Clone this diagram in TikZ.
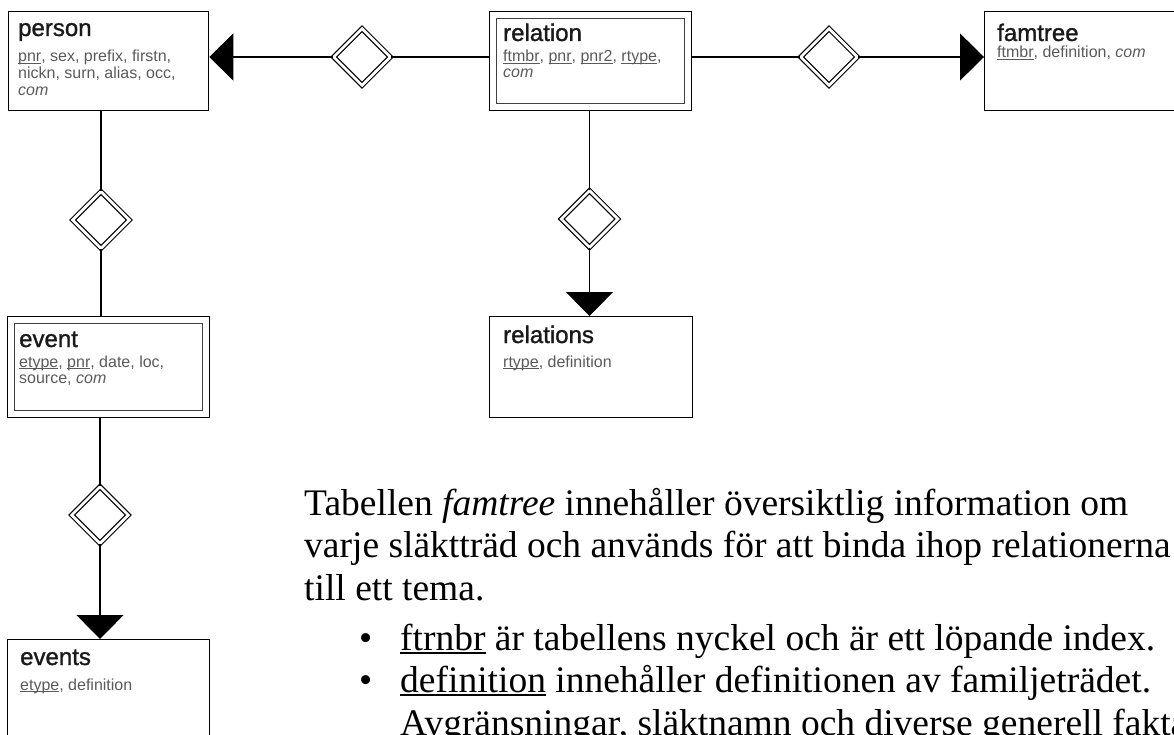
\documentclass[tikz,border=0pt]{standalone}
\usepackage{fontspec}
\setmainfont{Liberation Serif}
\newfontfamily\boxfont{Liberation Sans}
\newfontfamily\titlefont[FakeBold=1.2]{Liberation Sans}
\usetikzlibrary{arrows.meta,shapes.geometric}

\definecolor{attrgray}{HTML}{5A5A5A}

% underlined key attribute: #1 depth, #2 thickness, #3 text
\newcommand\keyline[3]{\setbox0=\hbox{#3}\rlap{\rule[#1]{\wd0}{#2}}\box0\relax}
\newcommand\key[1]{\keyline{-2.2pt}{0.9pt}{#1}}
\newcommand\bodykey[1]{\keyline{-3.8pt}{1.7pt}{#1}}

\tikzset{
  entity/.style={draw, line width=1.3pt, rectangle, inner sep=0pt, anchor=north west},
  weakinner/.style={draw=black!75, line width=1pt},
  relship/.style={draw, diamond, aspect=1, minimum size=57pt, inner sep=0pt,
                  line width=1.1pt, double, double distance=2.8pt},
  link/.style={line width=1.2pt},
  tolink/.style={link, -{Triangle[length=24pt,width=47pt]}},
  etitle/.style={anchor=base west, inner sep=0pt, text=black!90,
                 font=\titlefont\fontsize{24}{28}\selectfont},
  eattr/.style={anchor=base west, inner sep=0pt, text=attrgray,
                font=\boxfont\fontsize{16}{18}\selectfont},
  body/.style={anchor=base west, inner sep=0pt,
               font=\fontsize{37.5}{42}\selectfont},
}

\begin{document}
\begin{tikzpicture}[x=1pt,y=-1pt]
\useasboundingbox (0,0) rectangle (1174,735);
\clip (0,0) rectangle (1174,735);

% entity boxes
\node[entity, minimum width=200pt, minimum height=99pt]  (person)    at (8,11)    {};
\node[entity, minimum width=202pt, minimum height=99pt]  (relation)  at (489,11)  {};
\node[entity, minimum width=200pt, minimum height=99pt]  (famtree)   at (984,11)  {};
\node[entity, minimum width=202pt, minimum height=101pt] (event)     at (7,316)   {};
\node[entity, minimum width=203pt, minimum height=101pt] (relations) at (489,316) {};
\node[entity, minimum width=202pt, minimum height=101pt] (events)    at (7,639)   {};

% inner frames of the weak entities
\draw[weakinner] ([shift={(7.5pt,-7.5pt)}]relation.north west) rectangle ([shift={(-7.5pt,7.5pt)}]relation.south east);
\draw[weakinner] ([shift={(7.5pt,-7.5pt)}]event.north west) rectangle ([shift={(-7.5pt,7.5pt)}]event.south east);

% entity names and attributes
\node[etitle] (personT) at (18,36) {person};
\node[eattr] (personA1) at (18,62) {\key{pnr}, sex, prefix, firstn,};
\node[eattr] (personA2) at (18,79) {nickn, surn, alias, occ,};
\node[eattr] (personA3) at (18,96) {\textit{com}};

\node[etitle] (relationT) at (503,41) {relation};
\node[eattr] (relationA1) at (503,62) {\key{ftmbr}, \key{pnr}, \key{pnr2}, \key{rtype},};
\node[eattr] (relationA2) at (503,78) {\textit{com}};

\node[etitle] (famtreeT) at (997,41) {famtree};
\node[eattr] (famtreeA1) at (997,58) {\key{ftmbr}, definition, \textit{com}};

\node[etitle] (eventT) at (19,347) {event};
\node[eattr] (eventA1) at (19,367) {\key{etype}, \key{pnr}, date, loc,};
\node[eattr] (eventA2) at (19,383) {source, \textit{com}};

\node[etitle] (relationsT) at (503,343) {relations};
\node[eattr] (relationsA1) at (503,367) {\key{rtype}, definition};

\node[etitle] (eventsT) at (20,665) {events};
\node[eattr] (eventsA1) at (20,690) {\key{etype}, definition};

% relationships
\node[relship] (rPerson)    at (362,57)    {};
\node[relship] (rFamtree)   at (829,57)    {};
\node[relship] (rEvent)     at (101,220)   {};
\node[relship] (rEtype)     at (100,515)   {};
\node[relship] (rRtype)     at (589.5,219) {};

% connectors
\draw[link]   (relation.west |- rPerson.east) -- (rPerson.east);
\draw[tolink] (rPerson.west) -- (rPerson.west -| person.east);
\draw[link]   (relation.east |- rFamtree.west) -- (rFamtree.west);
\draw[tolink] (rFamtree.east) -- (rFamtree.east -| famtree.west);
\draw[link]   (rEvent.north |- person.south) -- (rEvent.north);
\draw[link]   (rEvent.south) -- (rEvent.south |- event.north);
\draw[link]   (rEtype.north |- event.south) -- (rEtype.north);
\draw[tolink] (rEtype.south) -- (rEtype.south |- events.north);
\draw[link]   (rRtype.north |- relation.south) -- (rRtype.north);
\draw[tolink] (rRtype.south) -- (rRtype.south |- relations.north);

% description text
\node[body] (p1) at (304,515) {Tabellen \textit{famtree} innehåller översiktlig information om};
\node[body] (p2) at (304,557) {varje släktträd och används för att binda ihop relationerna};
\node[body] (p3) at (304,600) {till ett tema.};
\node[body] (b1) at (359,650) {•};
\node[body] (i1) at (400,650) {\bodykey{ftrnbr} är tabellens nyckel och är ett löpande index.};
\node[body] (b2) at (359,692) {•};
\node[body] (i2) at (400,692) {\bodykey{definition} innehåller definitionen av familjeträdet.};
\node[body] (i3) at (400,735) {Avgränsningar, släktnamn och diverse generell fakta};
\end{tikzpicture}
\end{document}
